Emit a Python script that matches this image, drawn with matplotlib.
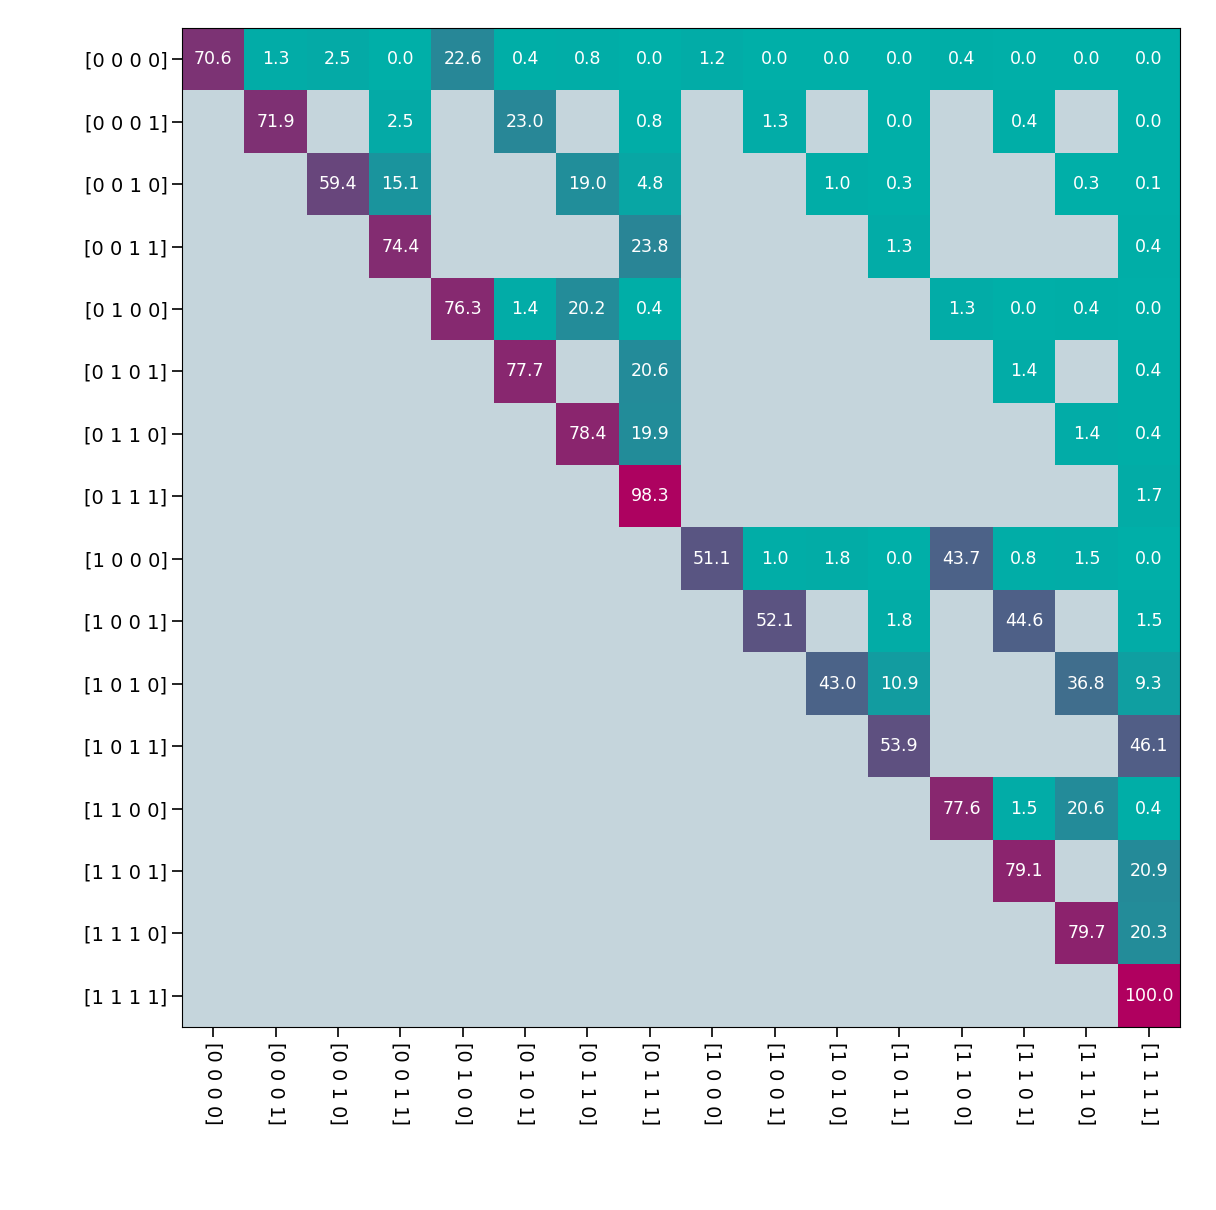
import numpy as np
import matplotlib
matplotlib.use("Agg")
import matplotlib.pyplot as plt
from matplotlib.colors import LinearSegmentedColormap

labels = ["[0 0 0 0]","[0 0 0 1]","[0 0 1 0]","[0 0 1 1]","[0 1 0 0]","[0 1 0 1]","[0 1 1 0]","[0 1 1 1]",
          "[1 0 0 0]","[1 0 0 1]","[1 0 1 0]","[1 0 1 1]","[1 1 0 0]","[1 1 0 1]","[1 1 1 0]","[1 1 1 1]"]
# values for each row, in order of the columns that are supersets of the row's state
row_values = [
    [70.6,1.3,2.5,0.0,22.6,0.4,0.8,0.0,1.2,0.0,0.0,0.0,0.4,0.0,0.0,0.0],
    [71.9,2.5,23.0,0.8,1.3,0.0,0.4,0.0],
    [59.4,15.1,19.0,4.8,1.0,0.3,0.3,0.1],
    [74.4,23.8,1.3,0.4],
    [76.3,1.4,20.2,0.4,1.3,0.0,0.4,0.0],
    [77.7,20.6,1.4,0.4],
    [78.4,19.9,1.4,0.4],
    [98.3,1.7],
    [51.1,1.0,1.8,0.0,43.7,0.8,1.5,0.0],
    [52.1,1.8,44.6,1.5],
    [43.0,10.9,36.8,9.3],
    [53.9,46.1],
    [77.6,1.5,20.6,0.4],
    [79.1,20.9],
    [79.7,20.3],
    [100.0],
]

n = 16
M = np.full((n, n), np.nan)
for r in range(n):
    cols = [c for c in range(n) if (c & r) == r]
    for c, v in zip(cols, row_values[r]):
        M[r, c] = v

cmap = LinearSegmentedColormap.from_list("tm", ["#00AFA8", "#B0005F"]).copy()
cmap.set_bad("#C5D5DC")

fig = plt.figure(figsize=(12.16, 12.10), dpi=100)
ax = fig.add_axes([0.1497, 0.1512, 0.8207, 0.8256])
ax.imshow(np.ma.masked_invalid(M), cmap=cmap, vmin=0, vmax=100, aspect="auto")
for r in range(n):
    for c in range(n):
        if not np.isnan(M[r, c]):
            ax.text(c, r, f"{M[r, c]:.1f}", ha="center", va="center", color="white", fontsize=12.5)
ax.set_xticks(range(n))
ax.set_yticks(range(n))
ax.set_xticklabels(labels, rotation=-90, fontsize=14)
ax.set_yticklabels(labels, fontsize=14)
ax.tick_params(length=7, width=1.2)
fig.savefig("out.png", dpi=100)
